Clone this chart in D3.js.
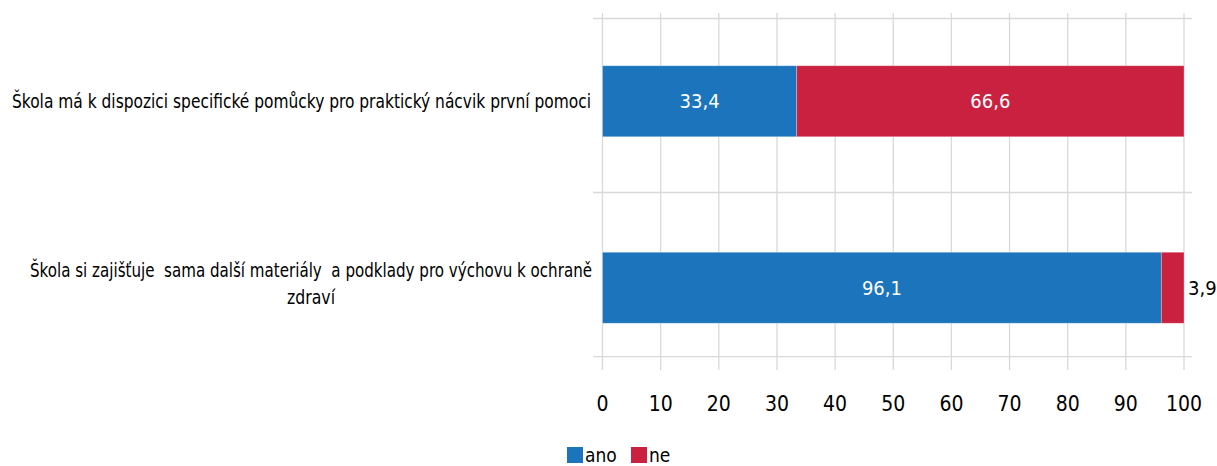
<!DOCTYPE html>
<html>
<head>
<meta charset="utf-8">
<script src="https://cdn.jsdelivr.net/npm/d3@7"></script>
<style>
  body { margin: 0; background: #fff; }
  svg { display: block; font-family: "DejaVu Sans Condensed", "DejaVu Sans", sans-serif; font-stretch: condensed; }
</style>
</head>
<body>
<div id="chart"></div>
<script>
// data
const categories = [
    'Škola má k dispozici specifické pomůcky pro praktický nácvik první pomoci',
    'Škola si zajišťuje  sama další materiály  a podklady pro výchovu k ochraně zdraví'
];
// label lines as they wrap in the original
const categoryLines = [
    ['Škola má k dispozici specifické pomůcky pro praktický nácvik první pomoci'],
    ['Škola si zajišťuje  sama další materiály  a podklady pro výchovu k ochraně', 'zdraví']
];
const seriesNames = ['ano', 'ne'];
const ano = [33.4, 96.1];
const ne = [66.6, 3.9];
const xTicks = [0, 10, 20, 30, 40, 50, 60, 70, 80, 90, 100];
const colors = ['#1c75bc', '#c9213f'];

const width = 1217, height = 466;

const svg = d3.select('#chart')
    .append('svg')
    .attr('width', width)
    .attr('height', height);

const x = d3.scaleLinear().domain([0, 100]).range([602.5, 1184]);
const y = d3.scaleBand().domain(categories).range([14, 369]).padding(0);
const barHeight = 71;

// vertical gridlines
svg.append('g')
    .selectAll('line')
    .data(xTicks)
    .enter()
    .append('line')
    .attr('x1', d => x(d))
    .attr('x2', d => x(d))
    .attr('y1', y.range()[0] - 1)
    .attr('y2', y.range()[1] + 1)
    .style('stroke', '#d9d9d9')
    .style('stroke-width', '1.3px');

// horizontal lines (top, category separator, bottom)
const hLines = [y.range()[0] + 4.5, y(categories[1]) + 1, y.range()[1] - 12.3];
svg.append('g')
    .selectAll('line')
    .data(hLines)
    .enter()
    .append('line')
    .attr('x1', x(0) - 9.5)
    .attr('x2', x(100) + 8)
    .attr('y1', d => d)
    .attr('y2', d => d)
    .style('stroke', '#d9d9d9')
    .style('stroke-width', '1.3px');

// stacked data
const rows = categories.map((c, i) => ({ cat: c, values: [ano[i], ne[i]] }));
const segments = [];
rows.forEach((r, i) => {
    let acc = 0;
    r.values.forEach((v, s) => {
        segments.push({ cat: r.cat, row: i, series: s, x0: acc, x1: acc + v, value: v });
        acc += v;
    });
});

const barY = d => y(d.cat) + y.bandwidth() / 2 - barHeight / 2 + (d.row === 1 ? 7.5 : -1.5);

svg.append('g')
    .selectAll('rect')
    .data(segments)
    .enter()
    .append('rect')
    .attr('x', d => x(d.x0))
    .attr('y', barY)
    .attr('width', d => x(d.x1) - x(d.x0))
    .attr('height', barHeight)
    .style('fill', d => colors[d.series])
    .style('stroke', 'rgba(255,255,255,0.35)')
    .style('stroke-width', '0.8px');

// value labels
svg.append('g')
    .selectAll('text')
    .data(segments)
    .enter()
    .append('text')
    .attr('x', d => d.value < 10 ? x(d.x1) + 4 : (x(d.x0) + x(d.x1)) / 2)
    .attr('y', d => barY(d) + barHeight / 2 + 7)
    .attr('text-anchor', d => d.value < 10 ? 'start' : 'middle')
    .style('font-size', '20px')
    .style('fill', d => d.value < 10 ? '#000' : '#fff')
    .text(d => d3.format('.1f')(d.value).replace('.', ','));

// category labels
const labelRight = 591;
const catG = svg.append('g')
    .selectAll('text')
    .data(categories)
    .enter()
    .append('text')
    .attr('text-anchor', (d, i) => categoryLines[i].length > 1 ? 'middle' : 'end')
    .attr('x', (d, i) => categoryLines[i].length > 1 ? 311 : labelRight)
    .attr('y', (d, i) => y(d) + y.bandwidth() / 2 - (categoryLines[i].length - 1) * 13.5 + 7 + (i === 1 ? 3 : -1.5))
    .style('font-size', '20px')
    .style('fill', '#000');

// widths the condensed original font takes per line
const lineWidths = [[579], [562, 48]];
catG.each(function(d, i) {
    const t = d3.select(this);
    categoryLines[i].forEach((line, j) => {
        const span = t.append('tspan')
            .attr('x', t.attr('x'))
            .attr('dy', j === 0 ? 0 : 27)
            .style('white-space', 'pre')
            .text(line);
        if (span.node().getComputedTextLength() > lineWidths[i][j]) {
            span.attr('textLength', lineWidths[i][j])
                .attr('lengthAdjust', 'spacingAndGlyphs');
        }
    });
});

// x axis tick labels
svg.append('g')
    .selectAll('text')
    .data(xTicks)
    .enter()
    .append('text')
    .attr('x', d => x(d))
    .attr('y', 411)
    .attr('text-anchor', 'middle')
    .style('font-size', '21px')
    .style('fill', '#000')
    .text(d => d);

// legend
const legend = svg.append('g')
    .attr('class', 'legend')
    .attr('transform', 'translate(567, 447)');

const legendX = [0, 64];
seriesNames.forEach((name, i) => {
    const item = legend.append('g')
        .attr('transform', `translate(${legendX[i]}, 0)`);
    item.append('rect')
        .attr('width', 16)
        .attr('height', 16)
        .attr('fill', colors[i]);
    item.append('text')
        .attr('x', 18)
        .attr('y', 15)
        .style('font-size', '19px')
        .style('fill', '#000')
        .text(name);
});
</script>
</body>
</html>
